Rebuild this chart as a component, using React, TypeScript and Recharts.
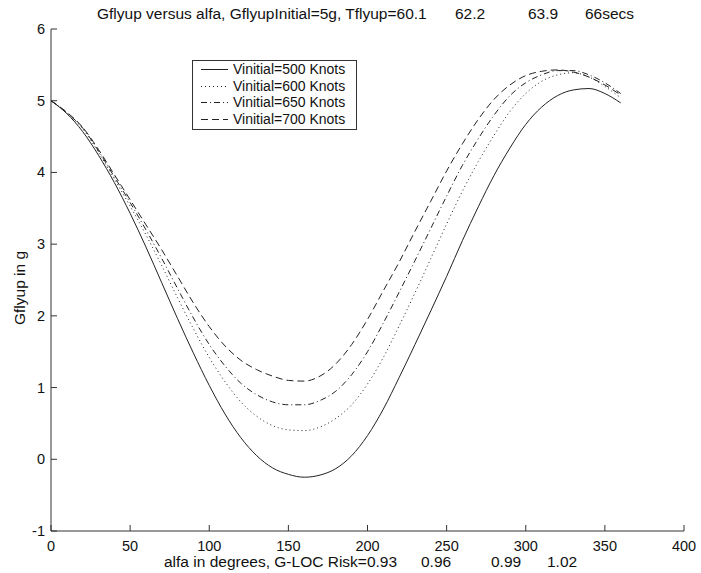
import { LineChart, Line, XAxis, YAxis } from "recharts";

// angle in degrees
const alfa = [0, 10, 20, 30, 40, 50, 60, 70, 80, 90, 100, 110, 120, 130, 140, 150, 160, 170, 180, 190, 200, 210, 220, 230, 240, 250, 260, 270, 280, 290, 300, 310, 320, 330, 340, 350, 360];

// Gflyup (g) per initial speed
const g500 = [5.0, 4.82, 4.57, 4.24, 3.86, 3.43, 2.96, 2.46, 1.96, 1.48, 1.03, 0.63, 0.3, 0.05, -0.12, -0.21, -0.25, -0.22, -0.13, 0.05, 0.33, 0.7, 1.14, 1.6, 2.07, 2.55, 3.05, 3.52, 3.96, 4.34, 4.67, 4.91, 5.07, 5.15, 5.17, 5.1, 4.97];
const g600 = [5.0, 4.83, 4.61, 4.28, 3.91, 3.53, 3.13, 2.7, 2.25, 1.82, 1.42, 1.08, 0.8, 0.6, 0.47, 0.41, 0.4, 0.45, 0.57, 0.76, 1.05, 1.42, 1.86, 2.32, 2.8, 3.28, 3.74, 4.15, 4.52, 4.85, 5.1, 5.27, 5.36, 5.39, 5.33, 5.2, 5.04];
const g650 = [5.0, 4.83, 4.62, 4.3, 3.94, 3.58, 3.2, 2.8, 2.38, 1.97, 1.6, 1.3, 1.06, 0.9, 0.8, 0.76, 0.76, 0.82, 0.95, 1.18, 1.5, 1.9, 2.33, 2.77, 3.22, 3.67, 4.1, 4.47, 4.8, 5.07, 5.25, 5.36, 5.42, 5.42, 5.36, 5.25, 5.1];
const g700 = [5.0, 4.84, 4.63, 4.32, 3.97, 3.62, 3.27, 2.92, 2.55, 2.18, 1.85, 1.58, 1.38, 1.25, 1.16, 1.1, 1.09, 1.16, 1.33, 1.6, 1.95, 2.35, 2.75, 3.18, 3.6, 4.02, 4.4, 4.74, 5.02, 5.22, 5.35, 5.41, 5.43, 5.4, 5.33, 5.22, 5.08];

const xTicks = [0, 50, 100, 150, 200, 250, 300, 350, 400];
const yTicks = [-1, 0, 1, 2, 3, 4, 5, 6];

const series = [
  { key: "g500", name: "Vinitial=500 Knots", dash: undefined },
  { key: "g600", name: "Vinitial=600 Knots", dash: "1 3" },
  { key: "g650", name: "Vinitial=650 Knots", dash: "6 3 1 3" },
  { key: "g700", name: "Vinitial=700 Knots", dash: "7 4" },
];

const data = alfa.map((a, i) => ({ alfa: a, g500: g500[i], g600: g600[i], g650: g650[i], g700: g700[i] }));

const FONT = "'Liberation Sans', Arial, sans-serif";
const AXIS = "#333";
const INK = "#222";

const BottomTick = ({ x, y, payload }: any) => (
  <g>
    <line x1={x} x2={x} y1={y} y2={y - 6} stroke={AXIS} />
    <text x={x} y={y + 20} textAnchor="middle" fontSize={14.5} fontFamily={FONT} fill="#111">
      {payload.value}
    </text>
  </g>
);
const TopTick = ({ x, y }: any) => <line x1={x} x2={x} y1={y} y2={y + 6} stroke={AXIS} />;
const LeftTick = ({ x, y, payload }: any) => (
  <g>
    <line x1={x} x2={x + 6} y1={y} y2={y} stroke={AXIS} />
    <text x={x - 6} y={y + 5} textAnchor="end" fontSize={14.5} fontFamily={FONT} fill="#111">
      {payload.value}
    </text>
  </g>
);
const RightTick = ({ x, y }: any) => <line x1={x} x2={x - 6} y1={y} y2={y} stroke={AXIS} />;

const LegendBox = () => (
  <div style={{ position: "absolute", left: 192, top: 60, width: 163, height: 68, border: `1px solid ${AXIS}`, background: "#fff" }}>
    {series.map((s) => (
      <div key={s.key} style={{ display: "flex", alignItems: "center", height: 16.6, fontFamily: FONT, fontSize: 14, color: "#111", whiteSpace: "nowrap" }}>
        <svg width={40} height={16}>
          <line x1={8} x2={35} y1={8.5} y2={8.5} stroke={INK} strokeDasharray={s.dash} />
        </svg>
        <span>{s.name}</span>
      </div>
    ))}
  </div>
);

const App = () => {
  const textStyle = { fontFamily: FONT, fontSize: 15.5, fill: "#111" };
  return (
    <div style={{ position: "absolute", left: 0, top: 0, width: 701, height: 573, background: "#fff" }}>
      <LineChart width={701} height={573} data={data} margin={{ top: 29, right: 17, bottom: 12, left: 11 }}>
        <XAxis dataKey="alfa" type="number" domain={[0, 400]} ticks={xTicks} stroke={AXIS} tickLine={false} tickSize={0} tickMargin={0} height={30} tick={<BottomTick />} />
        <XAxis xAxisId="top" dataKey="alfa" type="number" orientation="top" domain={[0, 400]} ticks={xTicks} stroke={AXIS} tickLine={false} tickSize={0} tickMargin={0} height={0} tick={<TopTick />} />
        <YAxis type="number" domain={[-1, 6]} ticks={yTicks} stroke={AXIS} tickLine={false} tickSize={0} tickMargin={0} width={40} tick={<LeftTick />} />
        <YAxis yAxisId="right" type="number" orientation="right" domain={[-1, 6]} ticks={yTicks} stroke={AXIS} tickLine={false} tickSize={0} tickMargin={0} width={0} tick={<RightTick />} />
        {series.map((s) => (
          <Line key={s.key} dataKey={s.key} name={s.name} type="monotone" stroke={INK} strokeWidth={1} strokeDasharray={s.dash} dot={false} isAnimationActive={false} />
        ))}
      </LineChart>
      <LegendBox />
      <svg width={701} height={573} style={{ position: "absolute", left: 0, top: 0, pointerEvents: "none" }}>
        <text x={97} y={19} {...textStyle}>Gflyup versus alfa, GflyupInitial=5g, Tflyup=60.1</text>
        <text x={455} y={19} {...textStyle}>62.2</text>
        <text x={528} y={19} {...textStyle}>63.9</text>
        <text x={585} y={19} {...textStyle}>66secs</text>
        <text x={164} y={567} {...textStyle}>alfa in degrees, G-LOC Risk=0.93</text>
        <text x={421} y={567} {...textStyle}>0.96</text>
        <text x={491} y={567} {...textStyle}>0.99</text>
        <text x={547} y={567} {...textStyle}>1.02</text>
        <text x={0} y={0} transform="translate(25 288) rotate(-90)" textAnchor="middle" {...textStyle}>Gflyup in g</text>
      </svg>
    </div>
  );
};

export default App;
